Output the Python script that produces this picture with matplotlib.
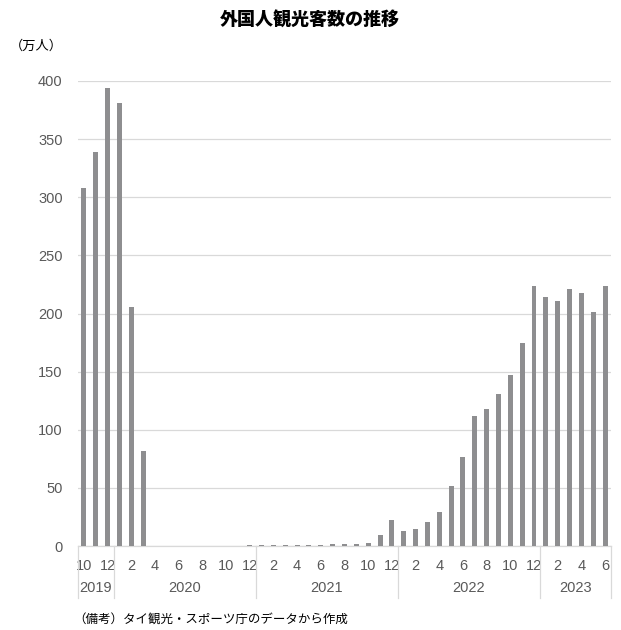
import numpy as np
import matplotlib.pyplot as plt
from matplotlib.transforms import blended_transform_factory

# 月次の外国人観光客数（万人）2019年10月〜2023年6月
years = ['2019', '2020', '2021', '2022', '2023']
months_per_year = [3, 12, 12, 12, 6]
month_labels = ([10, 11, 12] + list(range(1, 13)) * 3 + list(range(1, 7)))
visitors = [
    308, 339, 394,                                                  # 2019
    381, 206, 82, 0, 0, 0, 0, 0, 0, 0.1, 0.2, 0.7,                   # 2020
    0.9, 0.5, 0.6, 0.9, 0.5, 0.5, 1.8, 1.6, 1.9, 2.2, 9.1, 22.5,     # 2021
    12.5, 14.8, 20.5, 29, 51.5, 76.5, 112, 117.5, 130.5, 147, 174.5, 224,  # 2022
    214.5, 211, 221.5, 218, 201.5, 224,                              # 2023
]
y_ticks = [0, 50, 100, 150, 200, 250, 300, 350, 400]

JP = ['Noto Sans CJK JP', 'DejaVu Sans']
NUM = ['Liberation Sans', 'DejaVu Sans']
GRAY_TXT = '#595959'
GRID = '#d9d9d9'

fig = plt.figure(figsize=(6.21, 6.30), dpi=100)
ax = fig.add_axes([78 / 621, 1 - 546 / 630, 533 / 621, 465 / 630])

x = np.arange(len(visitors))
ax.bar(x, visitors, width=0.42, color='#8e8e90', zorder=3)

ax.set_xlim(-0.5, len(visitors) - 0.5)
ax.set_ylim(0, 400)
ax.set_yticks(y_ticks)
ax.set_yticklabels([str(v) for v in y_ticks], family=NUM, fontsize=10.5, color=GRAY_TXT)
ax.tick_params(axis='y', length=0, pad=11)
ax.grid(axis='y', color=GRID, linewidth=0.9, zorder=0)

for side in ['top', 'right', 'left']:
    ax.spines[side].set_visible(False)
ax.spines['bottom'].set_color(GRID)
ax.spines['bottom'].set_linewidth(0.9)

# 偶数月のみラベル表示
even = [i for i, m in enumerate(month_labels) if m % 2 == 0]
ax.set_xticks(even)
ax.set_xticklabels([str(month_labels[i]) for i in even], family=NUM,
                   fontsize=10.5, color=GRAY_TXT)
ax.tick_params(axis='x', length=0, pad=9)

# 年ラベルと区切り線
trans = blended_transform_factory(ax.transData, ax.transAxes)
start = 0
bounds = [-0.5]
for yr, n in zip(years, months_per_year):
    center = start + (n - 1) / 2
    ax.text(center, -0.0905, yr, transform=trans, ha='center', va='center',
            family=NUM, fontsize=10.5, color=GRAY_TXT)
    start += n
    bounds.append(start - 0.5)
for b in bounds:
    ax.plot([b, b], [0, -0.112], transform=trans, color=GRID,
            linewidth=0.9, clip_on=False)

fig.text(310 / 621, 1 - 20 / 630, '外国人観光客数の推移', family=JP,
         fontsize=13, fontweight='heavy', ha='center', va='center')
fig.text(10 / 621, 1 - 46 / 630, '（万人）', family=JP, fontsize=9.5,
         ha='left', va='center')
fig.text(73 / 621, 1 - 620 / 630, '（備考）タイ観光・スポーツ庁のデータから作成',
         family=JP, fontsize=9, ha='left', va='center')

fig.savefig('out.png', dpi=100)
